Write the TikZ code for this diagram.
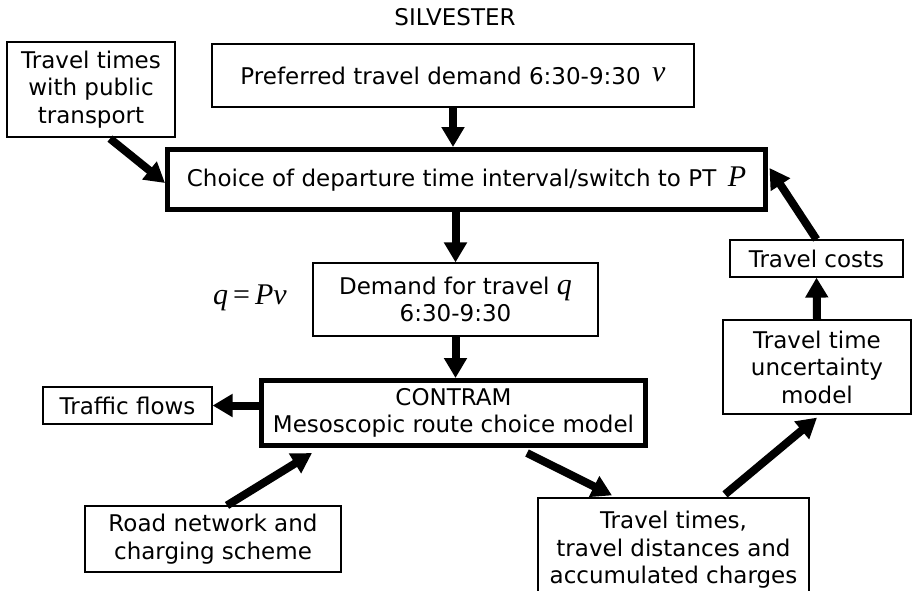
\documentclass[tikz,border=0pt]{standalone}
\usepackage{fontspec}
\setmainfont{DejaVu Sans}
\newfontfamily\tmsfont{Liberation Serif}
\usetikzlibrary{arrows.meta,calc}
\tikzset{
  box/.style={draw, line width=1.2pt, align=center, inner sep=0pt, font=\fontsize{23}{27.5}\selectfont},
  thickbox/.style={box, line width=5pt},
  arr/.style={line width=8pt, -{Triangle[width=22pt,length=20pt]}},
  lbl/.style={font=\fontsize{23}{27.5}\selectfont, inner sep=0pt}
}
\newcommand{\mv}[1]{{\tmsfont\fontsize{30}{30}\selectfont\itshape #1}}
\begin{document}
\begin{tikzpicture}[x=1pt,y=-1pt]
\useasboundingbox (0,0) rectangle (912,590);
\node[lbl] (silv) at (455,17) {SILVESTER};
\node[box, minimum width=168pt, minimum height=95pt] (pt) at (91,89.5) {Travel times\\with public\\transport};
\node[box, minimum width=482pt, minimum height=63pt] (pref) at (453,75.5) {Preferred travel demand 6:30-9:30\enspace\raisebox{3pt}{\mv{v}}};
\node[thickbox, minimum width=598pt, minimum height=60pt] (choice) at (466.5,179.5) {Choice of departure time interval/switch to PT\enspace\mv{P}};
\node[box, minimum width=173pt, minimum height=37pt] (costs) at (816.5,258.5) {Travel costs};
\node[box, minimum width=285pt, minimum height=73pt] (demand) at (455.5,299.5) {Demand for travel \mv{q}\\6:30-9:30};
\node[lbl] (qpv) at (250,298) {\mv{q}\hspace{5pt}{\tmsfont\fontsize{30}{30}\selectfont=}\hspace{5pt}\mv{Pv}};
\node[thickbox, minimum width=384pt, minimum height=65pt] (contram) at (453.5,413) {CONTRAM\\Mesoscopic route choice model};
\node[box, minimum width=169pt, minimum height=37pt] (flows) at (127.5,405.5) {Traffic flows};
\node[box, minimum width=256pt, minimum height=66pt] (road) at (213,539) {Road network and\\charging scheme};
\node[box, minimum width=271pt, minimum height=104pt] (ttimes) at (673.5,550) {Travel times,\\travel distances and\\accumulated charges};
\node[box, minimum width=188pt, minimum height=94pt] (unc) at (817,367) {Travel time\\uncertainty\\model};

\draw[arr] (pref.south) -- (pref.south |- choice.north);
\draw[arr] ($(pt.south)+(19,1)$) -- ($(choice.west)+(0,3.5)$);
\draw[arr] (demand.north |- choice.south) -- (demand.north);
\draw[arr] (demand.south) -- (demand.south |- contram.north);
\draw[arr] (contram.west |- flows.east) -- (flows.east);
\draw[arr] ($(road.north)+(14,0)$) -- ($(contram.south)+(-141.5,5)$);
\draw[arr] ($(contram.south)+(73.5,5)$) -- ($(ttimes.north)+(-61.5,-2)$);
\draw[arr] ($(ttimes.north)+(51.5,-3)$) -- ($(unc.south)+(0,3)$);
\draw[arr] (unc.north) -- (costs.south);
\draw[arr] (costs.north) -- ($(choice.east)+(1.5,-11.5)$);
\end{tikzpicture}
\end{document}
